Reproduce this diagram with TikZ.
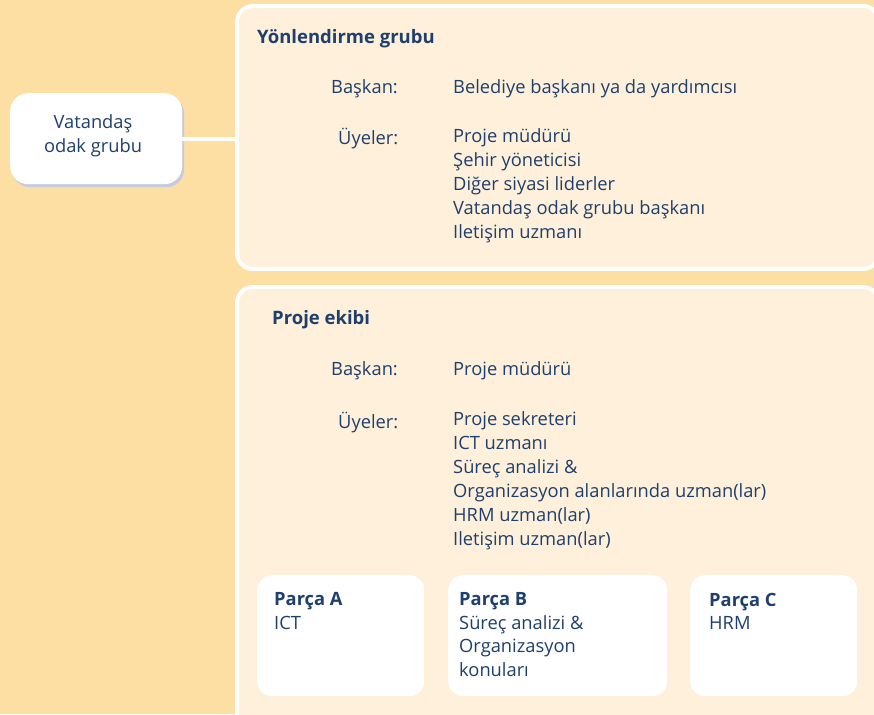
\documentclass[tikz,border=0pt]{standalone}
\usepackage{fontspec}
\setmainfont{Open Sans}
\usetikzlibrary{shadows}
\definecolor{bgorange}{HTML}{FDDEA3}
\definecolor{panelcream}{HTML}{FEF0DA}
\definecolor{textblue}{HTML}{1F3F6C}
\definecolor{shadowblue}{HTML}{C5CBE0}

\begin{document}
\begin{tikzpicture}[x=1pt,y=-1pt,
    every node/.style={text=textblue,font=\fontsize{18.3}{24}\selectfont,inner sep=0pt},
    panel/.style={rectangle,draw=white,line width=4pt,fill=panelcream,rounded corners=16pt,anchor=north west},
    card/.style={rectangle,fill=white,rounded corners=15pt,anchor=north west},
    title/.style={font=\fontsize{18.5}{24}\selectfont\bfseries,anchor=base west},
    entry/.style={anchor=base west},
    entrylist/.style={anchor=north west,align=left,yshift=16.8pt,execute at begin node=\strut},
    cardtext/.style={anchor=north west,align=left,yshift=16.45pt,execute at begin node=\strut,
      font=\fontsize{18.3}{23.5}\selectfont}]
      \useasboundingbox (0,0) rectangle (874,714);
      \fill[bgorange] (0,0) rectangle (874,714);
      \clip (0,0) rectangle (874,714);
      % panels
      \node[panel,minimum width=642pt,minimum height=263pt] (yonlendirme) at (235,4) {};
      \node[panel,minimum width=642pt,minimum height=445pt] (ekip) at (235,285) {};
      \node[card,rounded corners=18pt,minimum width=172pt,minimum height=91pt,
        drop shadow={shadow xshift=2pt,shadow yshift=-3pt,fill=shadowblue,opacity=1}]
        (vatandas) at (10,93) {};
      \node[align=center] (vatandastext) at (93,136) {Vatandaş\\odak grubu};
      \draw[white,line width=4pt] (vatandas.east) -- (vatandas.east -| yonlendirme.west);
      % Yonlendirme grubu
      \node[title] (ytitle) at (257,44) {Yönlendirme grubu};
      \node[entry] (ybaskan) at (331,94) {Başkan:};
      \node[entry] (ybaskanad) at (453,94) {Belediye başkanı ya da yardımcısı};
      \node[entry] (yuyeler) at (338,145) {Üyeler:};
      \node[entrylist] (yuyelist) at (453,145) {Proje müdürü\\Şehir yöneticisi\\Diğer siyasi liderler\\
        Vatandaş odak grubu başkanı\\Iletişim uzmanı};
      % Proje ekibi
      \node[title] (etitle) at (272,324) {Proje ekibi};
      \node[entry] (ebaskan) at (331,375) {Başkan:};
      \node[entry] (ebaskanad) at (453,375) {Proje müdürü};
      \node[entry] (euyeler) at (338,428) {Üyeler:};
      \node[entrylist] (euyelist) at (453,428) {Proje sekreteri\\ICT uzmanı\\Süreç analizi \&\\
        Organizasyon alanlarında uzman(lar)\\HRM uzman(lar)\\Iletişim uzman(lar)};
      % parcalar
      \node[card,minimum width=167pt,minimum height=121pt] (parcaA) at (257,575) {};
      \node[card,minimum width=219pt,minimum height=121pt] (parcaB) at (448,575) {};
      \node[card,minimum width=167pt,minimum height=121pt] (parcaC) at (690,575) {};
      \node[cardtext] (parcaAtext) at (274,609) {\textbf{Parça A}\\ICT};
      \node[cardtext] (parcaBtext) at (459,609) {\textbf{Parça B}\\Süreç analizi \&\\Organizasyon\\konuları};
      \node[cardtext] (parcaCtext) at (709,609) {\textbf{Parça C}\\HRM};
\end{tikzpicture}
\end{document}
